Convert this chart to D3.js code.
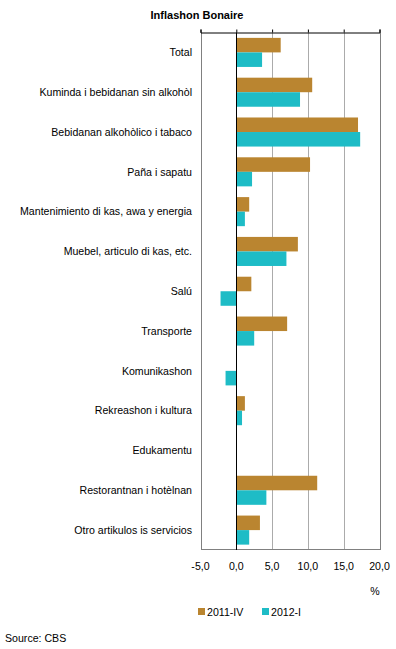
<!DOCTYPE html>
<html><head><meta charset="utf-8">
<script src="https://cdn.jsdelivr.net/npm/d3@7"></script>
<style>body{margin:0;background:#fff}svg{display:block}text{font-family:"Liberation Sans",Arial,sans-serif;fill:#000}</style>
</head><body><svg id="c" width="396" height="649"></svg>
<script>
const categories = ["Total","Kuminda i bebidanan sin alkohòl","Bebidanan alkohòlico i tabaco","Paña i sapatu","Mantenimiento di kas, awa y energia","Muebel, articulo di kas, etc.","Salú","Transporte","Komunikashon","Rekreashon i kultura","Edukamentu","Restorantnan i hotèlnan","Otro artikulos is servicios"];
const series2011IV = [6.2,10.6,17.0,10.3,1.8,8.6,2.1,7.1,0,1.2,0,11.3,3.3];
const series2012I = [3.6,8.9,17.3,2.2,1.2,7.0,-2.2,2.5,-1.5,0.8,0,4.2,1.8];
const seriesNames = ["2011-IV","2012-I"];
const colors = ["#BA8530","#1EBCC6"];
const tickValues = [-5,0,5,10,15,20];

const svg = d3.select("#c");
const x = d3.scaleLinear().domain([-5,20]).range([200.5,379.5]);
const y = d3.scaleBand().domain(categories).range([32.5,550]).paddingInner(0.27).paddingOuter(0.135);
const sub = d3.scaleBand().domain(seriesNames).range([0,y.bandwidth()]);
const fs = "10.6px";

svg.append("text").attr("x",197).attr("y",19).attr("text-anchor","middle")
  .style("font-weight","bold").style("font-size","11px").text("Inflashon Bonaire");

// gridlines
svg.append("g").selectAll("line").data(tickValues).join("line")
  .attr("x1",d=>Math.round(x(d))+0.5).attr("x2",d=>Math.round(x(d))+0.5)
  .attr("y1",32.5).attr("y2",550)
  .attr("stroke",d=>(d===-5||d===20)?"#808080":"#ababab").attr("stroke-width",1);

// bottom line
svg.append("line").attr("x1",Math.round(x(-5))+0.5).attr("x2",Math.round(x(20))+0.5).attr("y1",549.5).attr("y2",549.5).attr("stroke","#808080");

// top axis
const ax = svg.append("g").attr("transform","translate(0,32.5)")
  .call(d3.axisTop(x).tickValues(tickValues).tickSize(3).tickFormat(""));
ax.select(".domain").attr("stroke","#000");
ax.selectAll(".tick line").attr("stroke","#000");

const data = categories.map((c,i)=>({c, v:[series2011IV[i],series2012I[i]]}));
const g = svg.append("g");
data.forEach(d=>{
  d.v.forEach((v,j)=>{
    if(v===0) return;
    g.append("rect").attr("x",x(Math.min(0,v))).attr("width",Math.abs(x(v)-x(0)))
      .attr("y",y(d.c)+sub(seriesNames[j])).attr("height",sub.bandwidth()).attr("fill",colors[j]);
  });
});

// zero line
svg.append("line").attr("x1",Math.round(x(0))+0.5).attr("x2",Math.round(x(0))+0.5).attr("y1",32.5).attr("y2",550).attr("stroke","#000");

// category labels
svg.append("g").selectAll("text").data(categories).join("text")
  .attr("x",192).attr("y",d=>y(d)+y.bandwidth()/2).attr("dy","0.35em")
  .attr("text-anchor","end").style("font-size",fs).text(d=>d);

// tick labels
svg.append("g").selectAll("text").data(tickValues).join("text")
  .attr("x",d=>x(d)).attr("y",570).attr("text-anchor","middle").style("font-size",fs)
  .text(d=>d.toFixed(1).replace(".",","));

svg.append("text").attr("x",375).attr("y",595).attr("text-anchor","middle").style("font-size",fs).text("%");

// legend
const lg = svg.append("g");
const lx = [198,262];
seriesNames.forEach((n,j)=>{
  lg.append("rect").attr("x",lx[j]).attr("y",608).attr("width",7).attr("height",7).attr("fill",colors[j]);
  lg.append("text").attr("x",lx[j]+9).attr("y",615.5).style("font-size",fs).text(n);
});

svg.append("text").attr("x",5).attr("y",642).style("font-size",fs).text("Source: CBS");
</script></body></html>
